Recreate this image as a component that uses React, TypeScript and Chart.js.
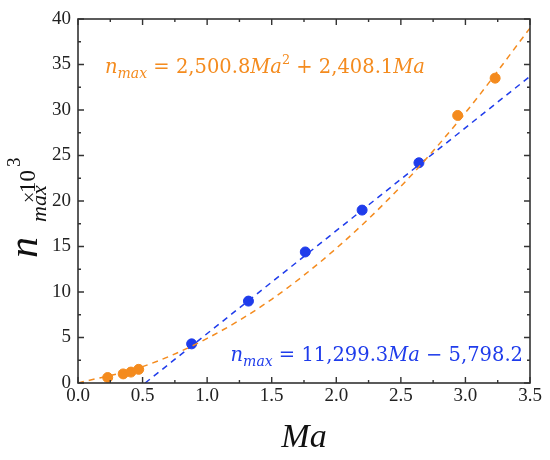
import React, { useEffect, useRef } from "react";
import { Chart, registerables } from "chart.js";

Chart.register(...registerables);

const orangeMa = [0.23, 0.35, 0.41, 0.47, 2.94, 3.23];
const orangeN = [0.6, 1.0, 1.2, 1.5, 29.4, 33.5];
const blueMa = [0.88, 1.32, 1.76, 2.2, 2.64];
const blueN = [4.3, 9.0, 14.4, 19.0, 24.2];

// Fit curves
const orangeFitMa = [0, 0.5, 1.0, 1.5, 2.0, 2.5, 3.0, 3.5];
const orangeFitN = [0, 1.8, 4.9, 9.2, 14.8, 21.6, 29.7, 39.0];
const blueFitMa = [0.52, 3.5];
const blueFitN = [0, 33.7];

// Axis ticks
const xMin = 0, xMax = 3.5, xStep = 0.5, xMinor = 0.25;
const yMin = 0, yMax = 40, yStep = 5, yMinor = 2.5;

const ORANGE = "#F48B1E";
const BLUE = "#1F3CEB";
const AXIS = "#333333";
const SERIF = "'Liberation Serif'";
const MATH = "'DejaVu Serif'";

type Seg = { t: string; i?: boolean; s?: number; dy?: number; dx?: number };

function segFont(sg: Seg, base: number) {
  return `${sg.i ? "italic " : ""}${base * (sg.s ?? 1)}px ${MATH}`;
}

function richWidth(ctx: CanvasRenderingContext2D, segs: Seg[], base: number) {
  let w = 0;
  for (const sg of segs) {
    ctx.font = segFont(sg, base);
    w += ctx.measureText(sg.t).width + (sg.dx ?? 0);
  }
  return w;
}

function drawRich(ctx: CanvasRenderingContext2D, segs: Seg[], x: number, y: number, base: number) {
  for (const sg of segs) {
    ctx.font = segFont(sg, base);
    ctx.fillText(sg.t, x, y + (sg.dy ?? 0));
    x += ctx.measureText(sg.t).width + (sg.dx ?? 0);
  }
}

const framePlugin = {
  id: "frameAndText",
  afterDraw(chart: any) {
    const ctx: CanvasRenderingContext2D = chart.ctx;
    const a = chart.chartArea;
    const xs = chart.scales.x;
    const ys = chart.scales.y;
    ctx.save();
    ctx.strokeStyle = AXIS;
    ctx.lineWidth = 1.6;
    ctx.strokeRect(a.left, a.top, a.right - a.left, a.bottom - a.top);
    ctx.lineWidth = 1.4;
    ctx.beginPath();
    for (let v = xMin; v <= xMax + 1e-9; v += xMinor) {
      const major = Math.abs(v / xStep - Math.round(v / xStep)) < 1e-6;
      const L = major ? 6 : 3;
      const px = xs.getPixelForValue(v);
      ctx.moveTo(px, a.bottom);
      ctx.lineTo(px, a.bottom - L);
      ctx.moveTo(px, a.top);
      ctx.lineTo(px, a.top + L);
    }
    for (let v = yMin; v <= yMax + 1e-9; v += yMinor) {
      const major = Math.abs(v / yStep - Math.round(v / yStep)) < 1e-6;
      const L = major ? 6 : 3;
      const py = ys.getPixelForValue(v);
      ctx.moveTo(a.left, py);
      ctx.lineTo(a.left + L, py);
      ctx.moveTo(a.right, py);
      ctx.lineTo(a.right - L, py);
    }
    ctx.stroke();

    // Equations
    ctx.textBaseline = "alphabetic";
    ctx.textAlign = "left";
    const orangeEq: Seg[] = [
      { t: "n", i: true },
      { t: "max", i: true, s: 0.72, dy: 5 },
      { t: " = 2,500.8" },
      { t: "Ma", i: true },
      { t: "2", s: 0.66, dy: -9 },
      { t: " + 2,408.1" },
      { t: "Ma", i: true },
    ];
    ctx.fillStyle = ORANGE;
    drawRich(ctx, orangeEq, 105, 73, 19.5);

    const blueEq: Seg[] = [
      { t: "n", i: true },
      { t: "max", i: true, s: 0.72, dy: 5 },
      { t: " = 11,299.3" },
      { t: "Ma", i: true },
      { t: " \u2212 5,798.2" },
    ];
    ctx.fillStyle = BLUE;
    const bw = richWidth(ctx, blueEq, 19.5);
    drawRich(ctx, blueEq, 523 - bw, 361, 19.5);

    // X title
    ctx.fillStyle = "#111";
    ctx.textAlign = "center";
    ctx.font = `italic 34px ${SERIF}`;
    ctx.fillText("Ma", (a.left + a.right) / 2, 447);

    // Y title (rotated)
    ctx.save();
    ctx.translate(37, 258);
    ctx.rotate(-Math.PI / 2);
    ctx.textAlign = "left";
    ctx.font = `italic 42px ${SERIF}`;
    ctx.fillText("n", 0, 0);
    ctx.font = `italic 22px ${SERIF}`;
    ctx.fillText("max", 36, 9);
    ctx.font = `20px ${SERIF}`;
    ctx.fillText("\u00d7", 55, -1);
    ctx.font = `23px ${SERIF}`;
    ctx.fillText("10", 65, -2);
    ctx.font = `19px ${SERIF}`;
    ctx.fillText("3", 91, -17);
    ctx.restore();

    ctx.restore();
  },
};

export default function App() {
  const ref = useRef<HTMLCanvasElement | null>(null);
  useEffect(() => {
    document.body.style.margin = "0";
    const canvas = ref.current;
    if (!canvas) return;
    const toXY = (xs: number[], ys: number[]) => xs.map((x, i) => ({ x, y: ys[i] }));
    const chart = new Chart(canvas, {
      type: "scatter",
      data: {
        datasets: [
          {
            label: "orange fit",
            data: toXY(orangeFitMa, orangeFitN),
            showLine: true,
            borderColor: ORANGE,
            borderWidth: 1.5,
            borderDash: [6, 5],
            pointRadius: 0,
            cubicInterpolationMode: "monotone",
            fill: false,
          } as any,
          {
            label: "blue fit",
            data: toXY(blueFitMa, blueFitN),
            showLine: true,
            borderColor: BLUE,
            borderWidth: 1.5,
            borderDash: [6, 5],
            pointRadius: 0,
            fill: false,
          } as any,
          {
            label: "orange",
            data: toXY(orangeMa, orangeN),
            backgroundColor: ORANGE,
            borderColor: ORANGE,
            pointRadius: 5,
            showLine: false,
          },
          {
            label: "blue",
            data: toXY(blueMa, blueN),
            backgroundColor: BLUE,
            borderColor: BLUE,
            pointRadius: 5,
            showLine: false,
          },
        ],
      },
      options: {
        animation: false,
        responsive: false,
        maintainAspectRatio: false,
        devicePixelRatio: 1,
        layout: { padding: { left: 0, top: 19, right: 20, bottom: 0 } },
        plugins: {
          legend: { display: false },
          tooltip: { enabled: false },
          title: { display: false },
        },
        scales: {
          x: {
            type: "linear",
            min: xMin,
            max: xMax,
            grid: { display: false, drawTicks: false },
            border: { display: false },
            ticks: {
              stepSize: xStep,
              padding: 2,
              color: "#222",
              font: { family: SERIF, size: 19 },
              callback: (v: any) => Number(v).toFixed(1),
              maxRotation: 0,
            },
            afterFit: (s: any) => {
              s.height = 77;
            },
          },
          y: {
            type: "linear",
            min: yMin,
            max: yMax,
            grid: { display: false, drawTicks: false },
            border: { display: false },
            ticks: {
              stepSize: yStep,
              padding: 7,
              color: "#222",
              font: { family: SERIF, size: 19 },
            },
            afterFit: (s: any) => {
              s.width = 78;
            },
          },
        },
      },
      plugins: [framePlugin],
    });
    return () => chart.destroy();
  }, []);
  return (
    <div style={{ width: 550, height: 460, background: "#fff" }}>
      <canvas ref={ref} width={550} height={460} style={{ display: "block" }} />
    </div>
  );
}
